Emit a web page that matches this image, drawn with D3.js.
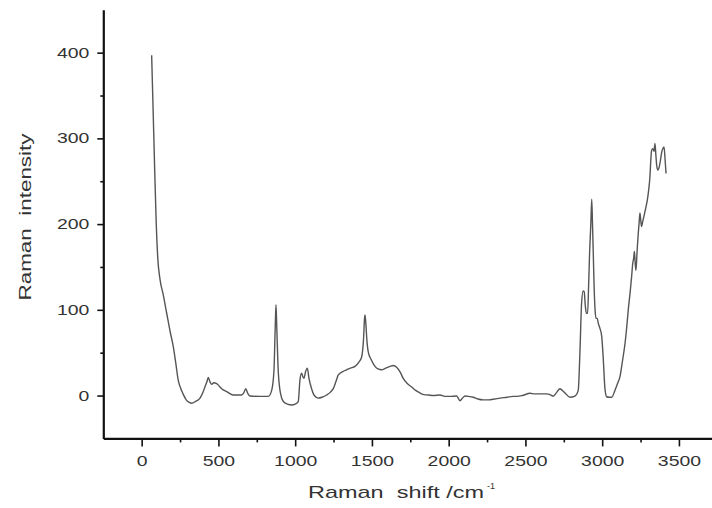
<!DOCTYPE html>
<html>
<head>
<meta charset="utf-8">
<script src="https://cdn.jsdelivr.net/npm/d3@7"></script>
<style>
  html, body { margin: 0; padding: 0; background: #fff; }
  svg { display: block; }
  text { font-family: "Liberation Sans", Arial, sans-serif; fill: #333; white-space: pre; }
</style>
</head>
<body>
<svg id="chart" width="712" height="508"></svg>
<script>
// Raman shift (cm^-1)
const shift = [65,75,85,95,105,120,140,163,185,206,222,238,255,267,290,310,326,350,380,400,412,425,434,445,456,470,489,505,521,554,597,651,665,678,690,705,771,825,847,862,870,875,880,888,901,923,950,977,1000,1020,1031,1042,1050,1057,1068,1079,1090,1107,1125,1150,1175,1205,1230,1248,1265,1281,1310,1335,1360,1390,1415,1433,1445,1452,1455,1460,1467,1476,1495,1520,1540,1563,1590,1618,1640,1661,1685,1704,1730,1759,1785,1813,1840,1867,1900,1943,1975,2008,2052,2074,2090,2106,2130,2160,2190,2225,2260,2300,2334,2380,2420,2443,2480,2530,2560,2595,2638,2660,2682,2705,2725,2740,2758,2790,2823,2844,2855,2866,2876,2883,2890,2897,2905,2912,2918,2926,2932,2937,2942,2947,2953,2960,2968,2975,2986,2997,3008,3018,3029,3045,3062,3083,3100,3116,3132,3149,3160,3170,3182,3192,3199,3205,3210,3215,3220,3228,3235,3240,3246,3251,3257,3264,3272,3283,3294,3303,3311,3317,3322,3330,3338,3344,3350,3355,3362,3372,3380,3388,3395,3403,3410,3416];
// Raman intensity
const intensity = [397,330,262,200,160,135,118,96,75,57,38,18,8,3,-5,-8,-9,-7,-3,4,10,16,21,16,13,15,14,11,8,4.5,0.6,0.6,3,8,3,-0.6,-1,-1,6,30,80,106,80,35,6,-7,-10,-11,-10,-7,18,26,22,20,28,32,20,8,0,-3,-2,0.6,4,8,16,24,28,30,32,34,39,45,65,90,94,85,65,51,42,34,31,30,32,34,35,33,27,20,14,10,6,3,1,0.6,0,0.6,-1,-1,-0.6,-6,-3,-0.6,-1,-2,-4,-5,-5,-4,-3,-2,-1,-1,0,2.6,2,2,2,1,-0.6,4,8,6,3,-2,-0.6,6,50,108,122,121,105,96,96,130,166,200,229,200,166,130,102,90,90,84,78,69,40,8,-1.4,-2,-2,6,14,22,40,61,80,100,120,139,154,160,168,155,146,170,189,200,213,205,197,203,209,218,228,240,255,275,286,288,285,294,280,269,263,267,275,284,288,290,275,259];

const xTicks = [0,500,1000,1500,2000,2500,3000,3500];
const xMinorTicks = [250,750,1250,1750,2250,2750,3250,3750];
const yTicks = [0,100,200,300,400];
const yMinorTicks = [50,150,250,350];
const xTitle = "Raman  shift /cm";
const xTitleSup = "-1";
const yTitle = "Raman  intensity";

const svg = d3.select("#chart");
const x = d3.scaleLinear().domain([-250, 3750]).range([103.3, 717.3]);
const y = d3.scaleLinear().domain([-50, 450]).range([438.4, 9.8]);
const x0 = x.range()[0], y0 = y.range()[0];

// minor ticks
svg.append("g").attr("transform", `translate(0,${y0})`)
  .call(d3.axisBottom(x).tickValues(xMinorTicks).tickSize(4).tickSizeOuter(0).tickFormat(""))
  .call(g => g.select(".domain").remove())
  .call(g => g.selectAll("line").attr("stroke", "#111").attr("stroke-width", 1.6));
svg.append("g").attr("transform", `translate(${x0},0)`)
  .call(d3.axisLeft(y).tickValues(yMinorTicks).tickSize(3).tickSizeOuter(0).tickFormat(""))
  .call(g => g.select(".domain").remove())
  .call(g => g.selectAll("line").attr("stroke", "#111").attr("stroke-width", 1.6));

// major x axis
const gx = svg.append("g").attr("transform", `translate(0,${y0})`)
  .call(d3.axisBottom(x).tickValues(xTicks).tickSize(8).tickSizeOuter(0).tickPadding(10).tickFormat(d3.format("d")));
gx.select(".domain").attr("stroke", "#111").attr("stroke-width", 2.2);
gx.selectAll(".tick line").attr("stroke", "#111").attr("stroke-width", 1.6);
gx.selectAll(".tick text").attr("font-size", 14).attr("fill", "#3a3a3a")
  .style("font-family", '"Liberation Sans", Arial, sans-serif')
  .attr("textLength", d => String(d).length * 10.8)
  .attr("lengthAdjust", "spacingAndGlyphs");

// major y axis
const gy = svg.append("g").attr("transform", `translate(${x0},0)`)
  .call(d3.axisLeft(y).tickValues(yTicks).tickSize(6).tickSizeOuter(0).tickPadding(8).tickFormat(d3.format("d")));
gy.select(".domain").attr("stroke", "#111").attr("stroke-width", 2.2);
gy.selectAll(".tick line").attr("stroke", "#111").attr("stroke-width", 1.6);
gy.selectAll(".tick text").attr("font-size", 14).attr("fill", "#3a3a3a")
  .style("font-family", '"Liberation Sans", Arial, sans-serif')
  .attr("textLength", d => String(d).length * 10.8)
  .attr("lengthAdjust", "spacingAndGlyphs");

// spectrum line
const line = d3.line().x((d, i) => x(shift[i])).y(d => y(d)).curve(d3.curveMonotoneX);
svg.append("path")
  .datum(intensity)
  .attr("fill", "none")
  .attr("stroke", "#555")
  .attr("stroke-width", 1.4)
  .attr("stroke-linejoin", "round")
  .attr("d", line);

// axis titles
svg.append("text")
  .attr("x", 308).attr("y", 498)
  .attr("font-size", 17)
  .attr("textLength", 176).attr("lengthAdjust", "spacingAndGlyphs")
  .text(xTitle);
svg.append("text")
  .attr("x", 487).attr("y", 489)
  .attr("font-size", 9)
  .text(xTitleSup);

svg.append("text")
  .attr("transform", "translate(31,217) rotate(-90)")
  .attr("text-anchor", "middle")
  .attr("font-size", 17)
  .attr("textLength", 167).attr("lengthAdjust", "spacingAndGlyphs")
  .text(yTitle);
</script>
</body>
</html>
